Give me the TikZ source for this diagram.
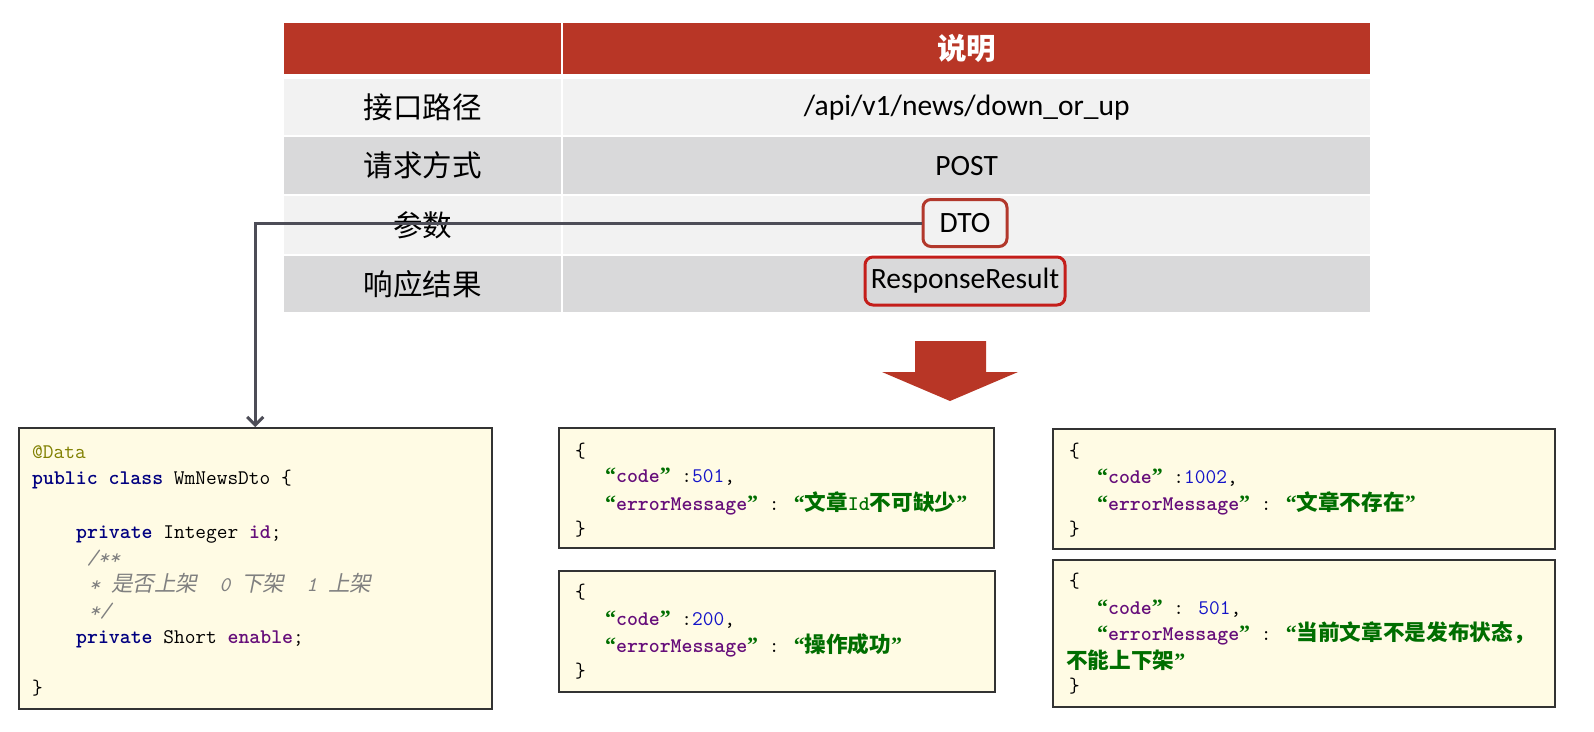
\documentclass[tikz,border=0pt]{standalone}
\usepackage{fontspec}
\usepackage{xcolor}
\usepackage{tikz}
\usetikzlibrary{arrows.meta,positioning}

\newfontfamily\tabfont{Carlito}
\newfontfamily\cjk{Noto Sans CJK SC}
\newfontfamily\cjkcode{Noto Sans CJK SC}[Scale=1.04]
\newfontfamily\cjkit{Noto Sans CJK SC}[Scale=1.04,FakeSlant=0.2]
\newfontfamily\quotefont{Liberation Serif}[Scale=1.05]

\definecolor{tabred}{RGB}{184,54,38}
\definecolor{rowlight}{RGB}{242,242,242}
\definecolor{rowdark}{RGB}{217,217,218}
\definecolor{boxred}{RGB}{178,56,44}
\definecolor{boxredb}{RGB}{196,30,26}
\definecolor{linkgray}{RGB}{77,77,87}
\definecolor{codebg}{RGB}{255,251,228}
\definecolor{codeframe}{RGB}{51,51,51}
\definecolor{annot}{RGB}{128,128,0}
\definecolor{kwcol}{RGB}{0,0,128}
\definecolor{fieldcol}{RGB}{102,14,122}
\definecolor{cmtcol}{RGB}{128,128,128}
\definecolor{numcol}{RGB}{20,20,200}
\definecolor{strcol}{RGB}{0,110,0}

\newcommand{\tabtext}{\tabfont\fontsize{29.5}{34}\selectfont}
\newcommand{\codesize}{\ttfamily\fontsize{20.8}{26}\selectfont}
\newcommand{\kwd}[1]{{\color{kwcol}\bfseries #1}}
\newcommand{\fld}[1]{{\color{fieldcol}\bfseries #1}}
\newcommand{\jopen}{{\quotefont\color{strcol}\bfseries “}}
\newcommand{\jclose}{{\quotefont\color{strcol}\bfseries ”}}
\newcommand{\jkey}[1]{\jopen{\color{fieldcol}\bfseries #1}\jclose}
\newcommand{\jnum}[1]{{\color{numcol}#1}}
\newcommand{\jmsg}[1]{{\cjkcode\color{strcol}\bfseries #1}}

\begin{document}
\begin{tikzpicture}[
  x=1pt, y=-1pt,
  keycell/.style={anchor=north west, inner sep=0pt, minimum width=277pt, font=\tabtext},
  valcell/.style={anchor=north west, inner sep=0pt, minimum width=807pt, font=\tabtext},
  redbox/.style={draw, rounded corners=8pt, line width=3pt, inner sep=0pt, font=\tabtext},
  codebox/.style={draw=codeframe, fill=codebg, line width=1.5pt, anchor=north west, inner sep=0pt},
  codeline/.style={anchor=base west, inner sep=0pt, font=\codesize},
  comment/.style={codeline, text=cmtcol, font=\codesize\itshape},
  link/.style={-{Straight Barb[length=8pt,width=16pt]}, line width=3pt, draw=linkgray}
]
\fill[white] (0,0) rectangle (1594,731);
\useasboundingbox (0,0) rectangle (1594,731);

% Table header
\node[keycell, fill=tabred, minimum height=51pt] (k0) at (284,23) {};
\node[valcell, fill=tabred, minimum height=51pt, text=white] (v0) at (563,23) {\cjk\bfseries 说明};

% Table rows
\node[keycell, fill=rowlight, minimum height=56pt] (k1) at (284,79) {\cjk 接口路径};
\node[valcell, fill=rowlight, minimum height=56pt] (v1) at (563,79) {/api/v1/news/down\_or\_up};
\node[keycell, fill=rowdark, minimum height=57pt] (k2) at (284,137) {\cjk 请求方式};
\node[valcell, fill=rowdark, minimum height=57pt] (v2) at (563,137) {POST};
\node[keycell, fill=rowlight, minimum height=58pt] (k3) at (284,196) {\cjk 参数};
\node[valcell, fill=rowlight, minimum height=58pt] (v3) at (563,196) {};
\node[keycell, fill=rowdark, minimum height=56pt] (k4) at (284,256) {\cjk 响应结果};
\node[valcell, fill=rowdark, minimum height=56pt] (v4) at (563,256) {};

% Marked values
\node[redbox, draw=boxred, minimum width=84pt, minimum height=47pt] (dto) at (965,223) {DTO};
\node[redbox, draw=boxredb, minimum width=200pt, minimum height=48pt] (result) at (965,281) {ResponseResult};

% Result arrow
\fill[tabred] (915,341) -- (986,341) -- (986,372) -- (1018,372) -- (950,401)
  -- (882,372) -- (915,372) -- cycle;

% Code boxes
\node[codebox, minimum width=473pt, minimum height=281pt] (dtocls) at (18,427) {};
\node[codebox, minimum width=435pt, minimum height=120pt] (err501) at (558,427) {};
\node[codebox, minimum width=436pt, minimum height=121pt] (ok200) at (558,570) {};
\node[codebox, minimum width=502pt, minimum height=120pt] (err1002) at (1052,428) {};
\node[codebox, minimum width=502pt, minimum height=147pt] (errstate) at (1052,559) {};

% DTO to class
\draw[link] (dto.west) -| (dtocls.north);

% WmNewsDto
\node[codeline, text=annot] (c-anno) at (32,458) {@Data};
\node[codeline] (c-cls) at (32,484) {\kwd{public class} WmNewsDto \{};
\node[codeline] (c-id) at (76,538) {\kwd{private} Integer \fld{id};};
\node[comment] (c-cm1) at (87,564) {/**};
\node[comment] (c-cm2) at (89,591) {* {\cjkit 是否上架}~~0~{\cjkit 下架}~~1~{\cjkit 上架}};
\node[comment] (c-cm3) at (89,617) {*/};
\node[codeline] (c-en) at (76,643) {\kwd{private} Short \fld{enable};};
\node[codeline] (c-end) at (32,694) {\}};

% 501 missing id
\node[codeline] (a-open) at (575,457) {\{};
\node[codeline] (a-code) at (605,482) {\jkey{code} :\jnum{501},};
\node[codeline] (a-msg) at (605,510) {\jkey{errorMessage} : \jopen\jmsg{文章{\ttfamily Id}不可缺少}\jclose};
\node[codeline] (a-close) at (575,535) {\}};

% 200 ok
\node[codeline] (b-open) at (575,598) {\{};
\node[codeline] (b-code) at (605,625) {\jkey{code} :\jnum{200},};
\node[codeline] (b-msg) at (605,652) {\jkey{errorMessage} : \jopen\jmsg{操作成功}\jclose};
\node[codeline] (b-close) at (575,677) {\}};

% 1002 not found
\node[codeline] (c-open) at (1069,457) {\{};
\node[codeline] (c-code) at (1097,483) {\jkey{code} :\jnum{1002},};
\node[codeline] (c-msg) at (1097,510) {\jkey{errorMessage} : \jopen\jmsg{文章不存在}\jclose};
\node[codeline] (c-close) at (1069,535) {\}};

% 501 wrong state
\node[codeline] (d-open) at (1069,587) {\{};
\node[codeline] (d-code) at (1097,614) {\jkey{code} : \jnum{501},};
\node[codeline] (d-msg) at (1097,640) {\jkey{errorMessage} : \jopen\jmsg{当前文章不是发布状态，}};
\node[codeline] (d-msg2) at (1066,668) {\jmsg{不能上下架}\jclose};
\node[codeline] (d-close) at (1069,692) {\}};

\end{tikzpicture}
\end{document}
